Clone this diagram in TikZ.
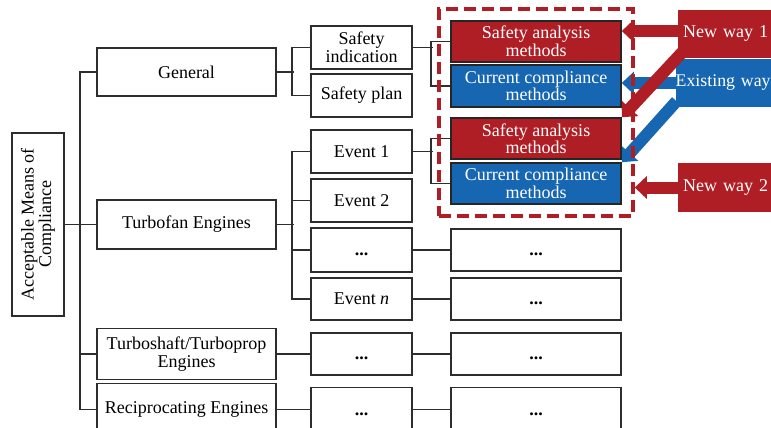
\documentclass[tikz,border=0pt]{standalone}
\usepackage{fontspec}
\setmainfont{Liberation Serif}
\usetikzlibrary{arrows.meta,calc}

\definecolor{amcred}{RGB}{175,30,37}
\definecolor{amcblue}{RGB}{22,102,178}
\definecolor{linegray}{RGB}{45,45,45}

\pgfdeclarelayer{background}
\pgfdeclarelayer{mid}
\pgfsetlayers{background,mid,main}

\begin{document}
\begin{tikzpicture}[x=1pt,y=-1pt,
  every node/.style={font=\fontsize{18}{17.5}\selectfont, inner sep=0pt, align=center},
  box/.style={draw=linegray, line width=1.6pt, fill=white},
  colbox/.style={box, minimum width=170pt},
  evbox/.style={box, minimum width=101pt},
  engbox/.style={box, minimum width=179pt},
  redbox/.style={draw=black!85, line width=1.6pt, fill=amcred, text=white, minimum width=170pt},
  bluebox/.style={draw=black!85, line width=1.6pt, fill=amcblue, text=white, minimum width=170pt},
  link/.style={draw=linegray, line width=1.6pt},
  redarrow/.style={draw=amcred, line width=12pt, -{Triangle[width=22pt,length=12pt]}},
  bluearrow/.style={draw=amcblue, line width=12pt, -{Triangle[width=22pt,length=12pt]}},
  waylabel/.style={anchor=west, text=white, align=left, minimum height=48pt}
]
\clip (0,0) rectangle (771,428);

% root
\node[box, rotate=90, minimum width=183pt, minimum height=52pt] (acc) at (38,224.5)
  {Acceptable Means of\\Compliance};

% engine categories
\node[engbox, minimum height=48pt] (gen) at (186.5,72) {General};
\node[engbox, minimum height=49pt] (tf) at (186.5,224.5) {Turbofan Engines};
\node[engbox, minimum height=51pt] (ts) at (186.5,354) {Turboshaft/Turboprop\\Engines};
\node[engbox, minimum height=52pt] (re) at (186.5,409.5) {Reciprocating Engines};

% second level
\node[evbox, minimum height=43pt] (si) at (361.5,47.5) {Safety\\indication};
\node[evbox, minimum height=43pt] (sp) at (361.5,95.5) {Safety plan};
\node[evbox, minimum height=43pt] (e1) at (361.5,151.5) {Event 1};
\node[evbox, minimum height=43pt] (e2) at (361.5,200.5) {Event 2};
\node[evbox, minimum height=44pt] (ed) at (361.5,250) {\vphantom{E}\textbf{...}};
\node[evbox, minimum height=42pt] (en) at (361.5,299) {Event \textit{n}};
\node[evbox, minimum height=42pt] (td) at (361.5,354) {\vphantom{E}\textbf{...}};
\node[evbox, minimum height=44pt] (rd) at (361.5,409.5) {\vphantom{E}\textbf{...}};

% third level
\node[redbox, minimum height=41pt] (sa1) at (536,41.5) {Safety analysis\\methods};
\node[bluebox, minimum height=42pt] (cc1) at (536,86) {Current compliance\\methods};
\node[redbox, minimum height=41pt] (sa2) at (536,138.5) {Safety analysis\\methods};
\node[bluebox, minimum height=41pt] (cc2) at (536,183.5) {Current compliance\\methods};
\node[colbox, minimum height=42pt] (edr) at (536,250) {\vphantom{E}\textbf{...}};
\node[colbox, minimum height=42pt] (enr) at (536,299) {\vphantom{E}\textbf{...}};
\node[colbox, minimum height=42pt] (tdr) at (536,354) {\vphantom{E}\textbf{...}};
\node[colbox, minimum height=44pt] (rdr) at (536,409.5) {\vphantom{E}\textbf{...}};

% tree connectors
\draw[link] (acc.south) -- (tf.west);
\draw[link] (gen.west) -- ++(-16,0) |- (re.west);
\draw[link] (ts.west) -- ++(-16,0);

\draw[link] (gen.east) -- ++(17,0);
\draw[link] (si.west) -- ++(-18,0) |- (sp.west);

\draw[link] (tf.east) -- ++(17,0);
\draw[link] (e1.west) -- ++(-18,0) |- (en.west);
\draw[link] (e2.west) -- ++(-18,0);
\draw[link] (ed.west) -- ++(-18,0);

\draw[link] (ts.east) -- (td.west);
\draw[link] (re.east) -- (rd.west);

\draw[link] (si.east) -- ++(20,0);
\draw[link] (sa1.west) -- ++(-19,0) |- (cc1.west);
\draw[link] (e1.east) -- ++(20,0);
\draw[link] (sa2.west) -- ++(-19,0) |- (cc2.west);

\draw[link] (ed.east) -- (edr.west);
\draw[link] (en.east) -- (enr.west);
\draw[link] (td.east) -- (tdr.west);
\draw[link] (rd.east) -- (rdr.west);

% existing way (arrows sit underneath its label box)
\begin{pgfonlayer}{mid}
\node[waylabel, fill=amcblue, text width=112pt, inner xsep=0pt,
      font=\fontsize{17.8}{17.5}\selectfont] (ew) at (675.5,83) {Existing way};
\end{pgfonlayer}
\begin{pgfonlayer}{background}
\draw[bluearrow] (ew.west) -- (cc1.east |- ew.west);
\draw[bluearrow] ($(ew.south west)+(1,-6)$) -- (cc2.north east);
\end{pgfonlayer}

% new ways
\node[waylabel, fill=amcred, text width=102pt, inner xsep=5pt] (nw1) at (678,34) {New way 1};
\node[waylabel, fill=amcred, text width=102pt, inner xsep=5pt, minimum height=49pt] (nw2) at (678,187.5) {New way 2};
\begin{pgfonlayer}{mid}
\draw[redarrow] ($(nw1.west)+(0,-3)$) -- (sa1.east |- {$(nw1.west)+(0,-3)$});
\draw[redarrow] ($(nw1.south west)+(8,-10)$) -- (sa2.north east);
\end{pgfonlayer}

% safety-analysis group frame
\node[draw=amcred, line width=3.5pt, dash pattern=on 12pt off 6pt,
      minimum width=194pt, minimum height=207pt] (grp) at (536,112.5) {};
\draw[redarrow] (nw2.west) -- (grp.east |- nw2.west);
\end{tikzpicture}
\end{document}
